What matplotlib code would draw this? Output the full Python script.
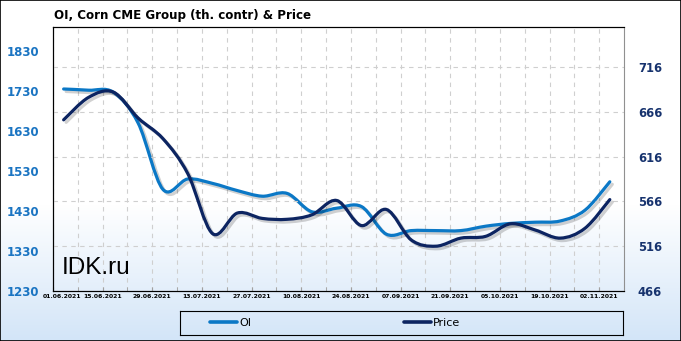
import numpy as np
import matplotlib
matplotlib.use('Agg')
import matplotlib.pyplot as plt
import matplotlib.dates as mdates
import matplotlib.patheffects as pe
from matplotlib.path import Path
from matplotlib.patches import PathPatch, Rectangle
from matplotlib.lines import Line2D
from matplotlib.transforms import ScaledTranslation
from datetime import datetime

# weekly report dates
dates = ['04.06.2021', '11.06.2021', '18.06.2021', '25.06.2021', '02.07.2021',
         '09.07.2021', '16.07.2021', '23.07.2021', '30.07.2021', '06.08.2021',
         '13.08.2021', '20.08.2021', '27.08.2021', '03.09.2021', '10.09.2021',
         '17.09.2021', '24.09.2021', '01.10.2021', '08.10.2021', '15.10.2021',
         '22.10.2021', '29.10.2021', '05.11.2021']
oi = [1735, 1732, 1727, 1650, 1484, 1510, 1499, 1481, 1467, 1474, 1428, 1437,
      1441, 1372, 1381, 1381, 1381, 1392, 1399, 1402, 1405, 1432, 1503]
price = [657, 682, 688, 659, 636, 597, 530, 553, 547, 546, 551, 567,
         539, 557, 523, 516, 525, 527, 541, 534, 525, 536, 568]
left_ticks = [1230, 1330, 1430, 1530, 1630, 1730, 1830]
right_ticks = [466, 516, 566, 616, 666, 716]

OI_COLOR = '#0b78c6'
PRICE_COLOR = '#0c2461'


def smooth_path(x, y):
    # catmull-rom style bezier through the points (like excel smoothed lines)
    pts = np.column_stack([x, y])
    ext = np.vstack([pts[0], pts, pts[-1]])
    verts = [pts[0]]
    codes = [Path.MOVETO]
    for i in range(1, len(ext) - 2):
        p0, p1, p2, p3 = ext[i - 1], ext[i], ext[i + 1], ext[i + 2]
        verts += [p1 + (p2 - p0) / 6, p2 - (p3 - p1) / 6, p2]
        codes += [Path.CURVE4] * 3
    return Path(verts, codes)


x = mdates.date2num([datetime.strptime(d, '%d.%m.%Y') for d in dates])

fig = plt.figure(figsize=(6.81, 3.41), dpi=100)

# background gradient, white -> light blue at the bottom
bg = fig.add_axes([0, 0, 1, 1], zorder=-10)
rows = np.linspace(0, 1, 341)
t = np.clip((rows - 0.60) / 0.40, 0, 1)
top = np.array([1.0, 1.0, 1.0])
bot = np.array([211, 229, 248]) / 255
grad = top[None, :] * (1 - t[:, None]) + bot[None, :] * t[:, None]
bg.imshow(grad[:, None, :], aspect='auto', extent=[0, 1, 0, 1])
bg.axis('off')
fig.patches.append(Rectangle((0, 0), 1, 1, transform=fig.transFigure,
                             fill=False, edgecolor='black', lw=1.2))

ax = fig.add_axes([53 / 681, 1 - 291 / 341, 571 / 681, 264 / 341])
ax.set_facecolor('none')
ax2 = ax.twinx()

start = mdates.date2num(datetime(2021, 6, 1))
ax.set_xlim(start, start + 161)
ax.set_ylim(1230, 1890)
ax2.set_ylim(466, 760.6)

shadow = [pe.SimpleLineShadow(offset=(1.8, -1.8), shadow_color='black', alpha=0.18),
          pe.Normal()]
p1 = PathPatch(smooth_path(x, oi), fill=False, edgecolor=OI_COLOR, lw=2.3,
               capstyle='round', path_effects=shadow, zorder=3)
ax.add_patch(p1)
p2 = PathPatch(smooth_path(x, price), fill=False, edgecolor=PRICE_COLOR, lw=2.3,
               capstyle='round', path_effects=shadow, zorder=3)
ax2.add_patch(p2)

# x axis: labels every two weeks, grid every week
ax.set_xticks(start + np.arange(0, 161, 14))
ax.set_xticks(start + np.arange(7, 161, 14), minor=True)
ax.xaxis.set_major_formatter(mdates.DateFormatter('%d.%m.%Y'))
ax.tick_params(axis='x', which='both', direction='in', length=3, color='#a0a0a0',
               labelsize=4.4, pad=2.5)
for lb in ax.get_xticklabels():
    lb.set_fontweight('bold')
first = ax.xaxis.get_major_ticks()[0].label1
first.set_transform(first.get_transform() + ScaledTranslation(0.09, 0, fig.dpi_scale_trans))
ax.grid(True, axis='x', which='both', ls=(0, (4, 4)), color='#cfcfcf', lw=0.8)

# left axis
ax.set_yticks(left_ticks)
ax.tick_params(axis='y', length=0, labelsize=8.5, labelcolor='#1a74c2', pad=10)
for lb in ax.get_yticklabels():
    lb.set_fontweight('bold')

# right axis
ax2.set_yticks(right_ticks)
ax2.tick_params(axis='y', length=0, labelsize=8.3, labelcolor='#17336e', pad=10)
for lb in ax2.get_yticklabels():
    lb.set_fontweight('bold')
ax2.grid(True, axis='y', ls=(0, (4, 4)), color='#cfcfcf', lw=0.8)
ax2.set_axisbelow(True)

for s in ['left', 'top', 'bottom']:
    ax.spines[s].set_color('black')
    ax2.spines[s].set_color('black')
ax2.spines['right'].set_color('#909090')
ax.spines['right'].set_visible(False)

fig.text(54 / 681, 1 - 15 / 341, 'OI, Corn CME Group (th. contr) & Price',
         fontsize=8.6, fontweight='bold', va='center', ha='left')
ax.text(9 / 571, (291 - 268) / 264, 'IDK.ru',
        transform=ax.transAxes, fontsize=17.5, family='Liberation Sans',
        va='center', ha='left')

# legend box
lax = fig.add_axes([180 / 681, 1 - 335 / 341, 443 / 681, 24 / 341])
lax.set_facecolor('none')
lax.set_xticks([])
lax.set_yticks([])
for s in lax.spines.values():
    s.set_color('black')
handles = [Line2D([], [], color=OI_COLOR, lw=2.6, solid_capstyle='round'),
           Line2D([], [], color=PRICE_COLOR, lw=2.6, solid_capstyle='round')]
lax.legend(handles, ['OI', 'Price'], ncol=2, loc='center left',
           bbox_to_anchor=(30 / 443, 0.5), frameon=False, fontsize=8,
           handlelength=2.4, handletextpad=0.2, columnspacing=13.8,
           borderpad=0, borderaxespad=0)

fig.savefig('out.png', dpi=100)
